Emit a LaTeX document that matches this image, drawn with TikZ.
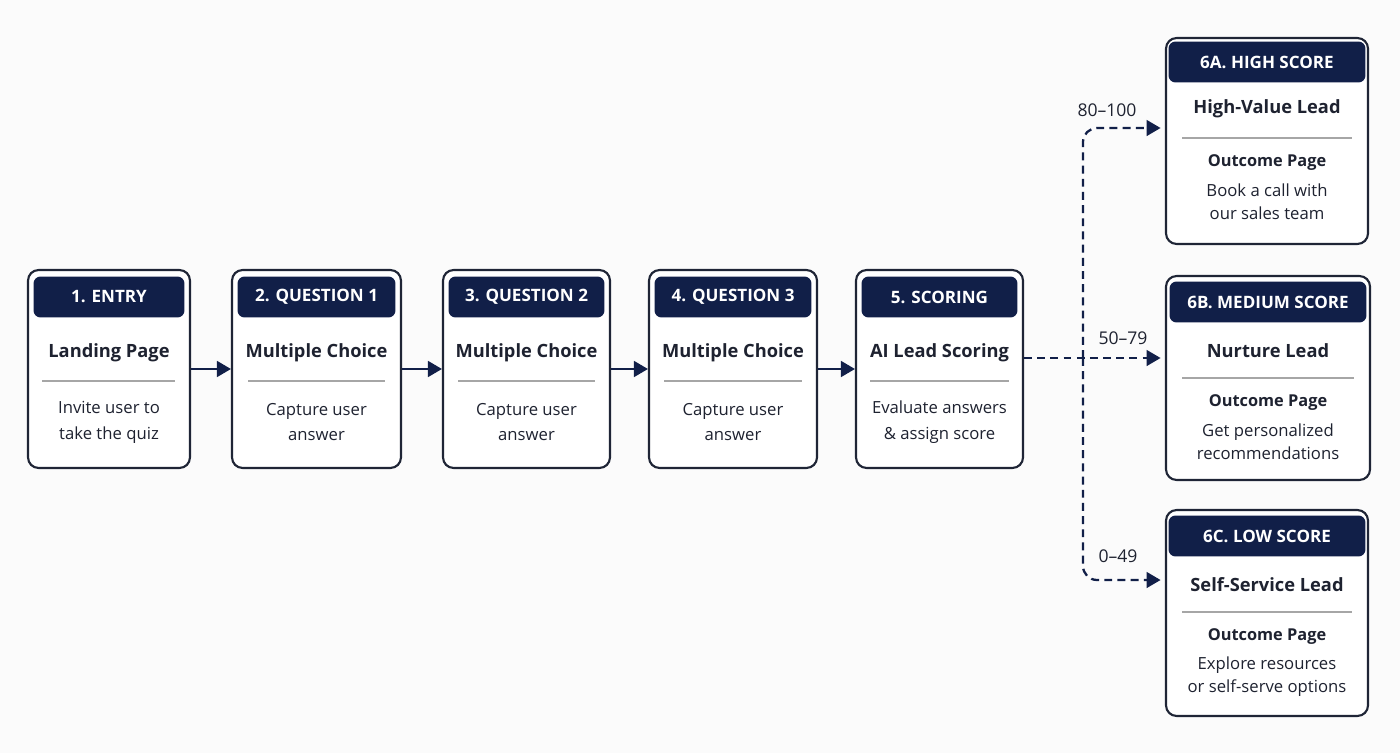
\documentclass[tikz,border=0pt]{standalone}
\usepackage{fontspec}
\setmainfont{Open Sans}
\usetikzlibrary{arrows.meta,positioning}
\definecolor{navy}{HTML}{111F48}
\definecolor{ink}{HTML}{1E2230}
\definecolor{edge}{HTML}{1F2536}
\definecolor{paper}{HTML}{FBFBFB}
\begin{document}
\begin{tikzpicture}[x=0.02cm,y=-0.02cm,
  card/.style={draw=edge,line width=1.2pt,fill=white,rounded corners=6pt,inner sep=0pt},
  head/.style={fill=navy,rounded corners=4pt,text=white,inner sep=0pt,minimum height=0.82cm,
    font=\bfseries\fontsize{9.7}{11}\selectfont},
  ttl/.style={text=ink,inner sep=0pt,font=\bfseries\fontsize{10.4}{13}\selectfont},
  sub/.style={text=ink,inner sep=0pt,font=\bfseries\fontsize{9.3}{11}\selectfont},
  body/.style={text=ink,inner sep=0pt,align=center,font=\fontsize{9.5}{14.7}\selectfont},
  note/.style={text=ink,inner sep=0pt,align=center,font=\fontsize{9.5}{13}\selectfont},
  rng/.style={text=ink,inner sep=0pt,font=\fontsize{10}{12}\selectfont},
  rule/.style={draw=gray!70,line width=0.6pt},
  flow/.style={draw=navy,line width=1.3pt,-{Triangle[length=8pt,width=9pt]}},
  dflow/.style={flow,dash pattern=on 4.5pt off 3pt}]

\fill[paper] (0,0) rectangle (1400,753);
\useasboundingbox (0,0) rectangle (1400,753);

% main row
\node[card,minimum width=3.24cm,minimum height=3.96cm] (n1) at (109,369) {};
\node[card,minimum width=3.38cm,minimum height=3.96cm] (n2) at (316.5,369) {};
\node[card,minimum width=3.34cm,minimum height=3.96cm] (n3) at (526.5,369) {};
\node[card,minimum width=3.36cm,minimum height=3.96cm] (n4) at (733,369) {};
\node[card,minimum width=3.34cm,minimum height=3.96cm] (n5) at (939.5,369) {};

\node[head,minimum width=3.02cm] (h1) at (109,297) {1. ENTRY};
\node[head,minimum width=3.16cm] (h2) at (316.5,297) {2. QUESTION 1};
\node[head,minimum width=3.12cm] (h3) at (526.5,297) {3. QUESTION 2};
\node[head,minimum width=3.14cm] (h4) at (733,297) {4. QUESTION 3};
\node[head,minimum width=3.12cm] (h5) at (939.5,297) {5. SCORING};

\node[ttl] (t1) at (109,353) {Landing Page};
\node[ttl] (t2) at (316.5,353) {Multiple Choice};
\node[ttl] (t3) at (526.5,353) {Multiple Choice};
\node[ttl] (t4) at (733,353) {Multiple Choice};
\node[ttl] (t5) at (939.5,353) {AI Lead Scoring};

\draw[rule] (42,381) -- (175,381);
\draw[rule] (248,381) -- (385,381);
\draw[rule] (458,381) -- (595,381);
\draw[rule] (664,381) -- (802,381);
\draw[rule] (870,381) -- (1009,381);

\node[body] (b1) at (109,422) {Invite user to\\take the quiz};
\node[body] (b2) at (316.5,422) {Capture user\\answer};
\node[body] (b3) at (526.5,422) {Capture user\\answer};
\node[body] (b4) at (733,422) {Capture user\\answer};
\node[body] (b5) at (939.5,422) {Evaluate answers\\\& assign score};

% outcomes
\node[card,minimum width=4.04cm,minimum height=4.12cm] (n6a) at (1267,141) {};
\node[card,minimum width=4.08cm,minimum height=4.08cm] (n6b) at (1268,378) {};
\node[card,minimum width=4.04cm,minimum height=4.12cm] (n6c) at (1267,613) {};

\node[head,minimum width=3.94cm] (h6a) at (1267,62) {6A. HIGH SCORE};
\node[head,minimum width=3.94cm] (h6b) at (1268,302) {6B. MEDIUM SCORE};
\node[head,minimum width=3.94cm] (h6c) at (1267,536) {6C. LOW SCORE};

\node[ttl] (t6a) at (1267,109) {High-Value Lead};
\node[ttl] (t6b) at (1268,351) {Nurture Lead};
\node[ttl] (t6c) at (1267,585) {Self-Service Lead};

\draw[rule] (1182,138) -- (1352,138);
\draw[rule] (1182,378) -- (1354,378);
\draw[rule] (1182,612) -- (1352,612);

\node[sub] (s6a) at (1267,163) {Outcome Page};
\node[sub] (s6b) at (1268,403) {Outcome Page};
\node[sub] (s6c) at (1267,637) {Outcome Page};

\node[note] (b6a) at (1267,201.5) {Book a call with\\our sales team};
\node[note] (b6b) at (1268,442) {Get personalized\\recommendations};
\node[note] (b6c) at (1267,676.5) {Explore resources\\or self-serve options};

% arrows
\draw[flow] (n1) -- (n2);
\draw[flow] (n2) -- (n3);
\draw[flow] (n3) -- (n4);
\draw[flow] (n4) -- (n5);

\coordinate (fork) at (1083,358);
\draw[dflow,shorten >=2.5pt] (n5.east |- fork) -- (n6b.west |- fork);
\draw[dflow,rounded corners=8pt,shorten >=2.5pt] (fork) |- ([yshift=0.26cm]n6a.west);
\draw[dflow,rounded corners=8pt,shorten >=2.5pt] (fork) |- ([yshift=0.66cm]n6c.west);

\node[rng] (r1) at (1107,110) {80–100};
\node[rng] (r2) at (1123,338) {50–79};
\node[rng] (r3) at (1118,556) {0–49};
\end{tikzpicture}
\end{document}
